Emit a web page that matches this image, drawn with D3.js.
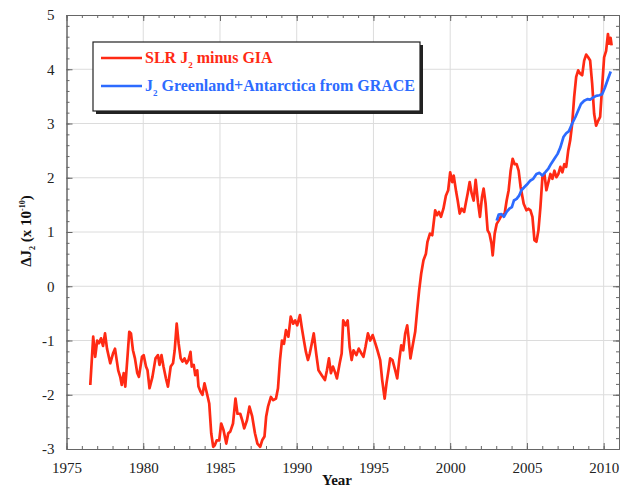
<!DOCTYPE html>
<html>
<head>
<meta charset="utf-8">
<script src="https://cdn.jsdelivr.net/npm/d3@7/dist/d3.min.js"></script>
<style>
  html, body { margin: 0; padding: 0; background: #fff; }
  svg { display: block; }
  text { font-family: "Liberation Serif", "Times New Roman", serif; }
</style>
</head>
<body>
<svg id="chart" width="622" height="487"></svg>
<script>
// SLR J2 minus GIA (decimal year, x 1e-10)
const slrYears = [
  1976.55, 1976.74, 1976.87, 1977.0, 1977.12, 1977.25, 1977.38, 1977.51, 1977.64, 1977.85,
  1978.03, 1978.16, 1978.37, 1978.5, 1978.6, 1978.73, 1978.83, 1978.99, 1979.09, 1979.2,
  1979.33, 1979.46, 1979.61, 1979.72, 1979.92, 1980.03, 1980.18, 1980.28, 1980.41, 1980.6,
  1980.8, 1980.96, 1981.06, 1981.19, 1981.32, 1981.48, 1981.61, 1981.79, 1981.94, 1982.05,
  1982.18, 1982.31, 1982.44, 1982.56, 1982.69, 1982.82, 1982.95, 1983.08, 1983.16, 1983.29,
  1983.39, 1983.52, 1983.6, 1983.73, 1983.86, 1983.99, 1984.12, 1984.3, 1984.43, 1984.56,
  1984.66, 1984.79, 1984.95, 1985.08, 1985.23, 1985.41, 1985.54, 1985.67, 1985.85, 1986.01,
  1986.14, 1986.32, 1986.45, 1986.58, 1986.76, 1986.92, 1987.1, 1987.28, 1987.44, 1987.62,
  1987.75, 1987.9, 1988.01, 1988.13, 1988.32, 1988.47, 1988.65, 1988.78, 1988.91, 1989.04,
  1989.17, 1989.3, 1989.46, 1989.61, 1989.77, 1989.9, 1990.03, 1990.21, 1990.34, 1990.47,
  1990.6, 1990.73, 1990.85, 1990.98, 1991.11, 1991.27, 1991.42, 1991.63, 1991.84, 1991.97,
  1992.1, 1992.23, 1992.36, 1992.49, 1992.62, 1992.8, 1992.93, 1993.03, 1993.19, 1993.32,
  1993.45, 1993.58, 1993.7, 1993.89, 1994.04, 1994.22, 1994.35, 1994.48, 1994.64, 1994.79,
  1994.95, 1995.13, 1995.26, 1995.44, 1995.57, 1995.73, 1995.85, 1995.98, 1996.09, 1996.24,
  1996.42, 1996.55, 1996.68, 1996.81, 1996.94, 1997.07, 1997.2, 1997.28, 1997.41, 1997.54,
  1997.72, 1997.85, 1997.98, 1998.11, 1998.26, 1998.42, 1998.52, 1998.68, 1998.83, 1999.02,
  1999.15, 1999.27, 1999.4, 1999.56, 1999.72, 1999.87, 2000.0, 2000.13, 2000.23, 2000.39,
  2000.49, 2000.62, 2000.75, 2000.91, 2001.01, 2001.14, 2001.27, 2001.4, 2001.53, 2001.66,
  2001.81, 2001.94, 2002.07, 2002.18, 2002.31, 2002.44, 2002.56, 2002.69, 2002.77, 2002.9,
  2003.03, 2003.16, 2003.29, 2003.42, 2003.55, 2003.68, 2003.81, 2003.94, 2004.07, 2004.2,
  2004.33, 2004.46, 2004.59, 2004.79, 2004.97, 2005.1, 2005.23, 2005.36, 2005.49, 2005.62,
  2005.75, 2005.88, 2006.01, 2006.14, 2006.27, 2006.4, 2006.53, 2006.66, 2006.79, 2006.92,
  2007.05, 2007.18, 2007.31, 2007.44, 2007.56, 2007.69, 2007.82, 2007.95, 2008.08, 2008.21,
  2008.34, 2008.47, 2008.6, 2008.73, 2008.86, 2008.99, 2009.12, 2009.25, 2009.38, 2009.51,
  2009.64, 2009.77, 2009.9, 2010.03, 2010.16, 2010.28, 2010.36, 2010.45, 2010.52
];
const slrValues = [
  -1.82, -0.93, -1.30, -1.00, -1.05, -0.96, -1.10, -0.87, -1.15, -1.42,
  -1.24, -1.15, -1.55, -1.67, -1.82, -1.60, -1.85, -1.24, -0.84, -0.87,
  -1.18, -1.33, -1.60, -1.67, -1.30, -1.27, -1.48, -1.55, -1.88, -1.67,
  -1.33, -1.27, -1.45, -1.27, -1.48, -1.70, -1.85, -1.48, -1.42, -1.18,
  -0.69, -1.06, -1.33, -1.39, -1.33, -1.42, -1.36, -1.21, -1.48, -1.45,
  -1.64, -1.55, -1.85, -1.94, -2.00, -1.79, -1.94, -2.16, -2.71, -2.96,
  -2.93, -2.84, -2.84, -2.53, -2.65, -2.90, -2.71, -2.68, -2.53, -2.07,
  -2.35, -2.35, -2.47, -2.62, -2.47, -2.22, -2.40, -2.71, -2.90, -2.96,
  -2.84, -2.77, -2.40, -2.22, -2.04, -2.10, -2.07, -1.88, -1.36, -1.00,
  -1.06, -0.81, -0.93, -0.56, -0.69, -0.63, -0.72, -0.53, -0.78, -1.00,
  -1.21, -1.36, -1.24, -1.06, -0.87, -1.24, -1.55, -1.64, -1.73, -1.55,
  -1.33, -1.60, -1.48, -1.58, -1.70, -1.42, -1.24, -0.63, -0.72, -0.63,
  -1.12, -1.36, -1.18, -1.27, -1.15, -1.24, -1.30, -1.12, -0.87, -1.00,
  -0.90, -1.06, -1.18, -1.36, -1.73, -2.07, -1.79, -1.55, -1.33, -1.36,
  -1.55, -1.70, -1.36, -1.09, -1.18, -0.87, -0.72, -0.93, -1.33, -1.12,
  -0.84, -0.44, -0.07, 0.23, 0.48, 0.60, 0.82, 0.97, 0.94, 1.40,
  1.31, 1.37, 1.28, 1.43, 1.67, 1.77, 2.10, 1.92, 2.04, 1.74,
  1.58, 1.34, 1.43, 1.37, 1.52, 1.71, 1.92, 1.71, 1.58, 1.96,
  1.55, 1.28, 1.64, 1.80, 1.52, 1.03, 0.97, 0.79, 0.57, 0.97,
  1.15, 1.21, 1.28, 1.31, 1.34, 1.58, 1.77, 2.13, 2.35, 2.25,
  2.25, 2.13, 1.83, 1.52, 1.40, 1.43, 1.40, 1.28, 0.85, 0.82,
  1.03, 1.46, 2.01, 2.07, 1.77, 1.92, 2.07, 1.98, 2.13, 2.01,
  2.07, 2.20, 2.10, 2.25, 2.20, 2.50, 2.69, 3.00, 3.49, 3.86,
  3.98, 3.92, 3.89, 4.16, 4.27, 4.22, 4.16, 3.74, 3.18, 2.96,
  3.05, 3.12, 3.67, 4.22, 4.34, 4.65, 4.47, 4.58, 4.44
];

// Greenland + Antarctica J2 from GRACE
const graceYears = [
  2003.03, 2003.16, 2003.34, 2003.5, 2003.68, 2003.86, 2004.02, 2004.15, 2004.33, 2004.49,
  2004.64, 2004.84, 2005.05, 2005.23, 2005.41, 2005.62, 2005.82, 2006.0, 2006.19, 2006.4,
  2006.58, 2006.79, 2007.0, 2007.18, 2007.38, 2007.56, 2007.74, 2007.95, 2008.16, 2008.34,
  2008.52, 2008.73, 2008.94, 2009.12, 2009.33, 2009.51, 2009.72, 2009.9, 2010.08, 2010.28,
  2010.46
];
const graceValues = [
  1.21, 1.32, 1.33, 1.28, 1.37, 1.43, 1.46, 1.58, 1.61, 1.67,
  1.77, 1.83, 1.89, 1.95, 1.98, 2.07, 2.09, 2.04, 2.10, 2.17,
  2.26, 2.35, 2.44, 2.56, 2.75, 2.82, 2.86, 3.00, 3.12, 3.24,
  3.36, 3.42, 3.45, 3.44, 3.48, 3.51, 3.52, 3.54, 3.66, 3.82,
  3.96
];

const xTicks = [1975, 1980, 1985, 1990, 1995, 2000, 2005, 2010];
const yTicks = [-3, -2, -1, 0, 1, 2, 3, 4, 5];

const svg = d3.select("#chart");
const plotLeft = 66.5, plotRight = 619, plotTop = 15, plotBottom = 449;

const x = d3.scaleLinear().domain([1975, 2011]).range([plotLeft, plotRight]);
const y = d3.scaleLinear().domain([-3, 5]).range([plotBottom, plotTop]);

const xMinor = d3.range(1975, 2011.01, 1);
const yMinor = d3.range(-3, 5.001, 0.2).map(v => +v.toFixed(1));
const plainNumber = d => String(d);

// grid
const grid = svg.append("g").attr("stroke", "#dcdcdc").attr("stroke-width", 1);
grid.selectAll("line.gx").data(xTicks.slice(1)).join("line")
  .attr("x1", d => x(d)).attr("x2", d => x(d))
  .attr("y1", plotTop).attr("y2", plotBottom);
grid.selectAll("line.gy").data(yTicks.slice(1, -1)).join("line")
  .attr("x1", plotLeft).attr("x2", plotRight)
  .attr("y1", d => y(d)).attr("y2", d => y(d));

// frame axes with inward major and minor ticks
function styleAxis(g) {
  g.selectAll(".domain").attr("stroke", "#666");
  g.selectAll(".tick line").attr("stroke", "#666");
  g.selectAll(".tick text").attr("fill", "#222")
    .style("font-family", '"Liberation Serif", serif').style("font-size", "15px");
}
const axes = svg.append("g");

axes.append("g").attr("transform", `translate(0,${plotBottom})`)
  .call(d3.axisBottom(x).tickValues(xMinor).tickSize(-3).tickSizeOuter(0).tickFormat(""))
  .call(styleAxis);
axes.append("g").attr("transform", `translate(0,${plotBottom})`)
  .call(d3.axisBottom(x).tickValues(xTicks).tickSize(-6).tickSizeOuter(0).tickPadding(13).tickFormat(plainNumber))
  .call(styleAxis);
axes.append("g").attr("transform", `translate(0,${plotTop})`)
  .call(d3.axisTop(x).tickValues(xMinor).tickSize(-3).tickSizeOuter(0).tickFormat(""))
  .call(styleAxis);
axes.append("g").attr("transform", `translate(0,${plotTop})`)
  .call(d3.axisTop(x).tickValues(xTicks).tickSize(-6).tickSizeOuter(0).tickFormat(""))
  .call(styleAxis);

axes.append("g").attr("transform", `translate(${plotLeft},0)`)
  .call(d3.axisLeft(y).tickValues(yMinor).tickSize(-3).tickSizeOuter(0).tickFormat(""))
  .call(styleAxis);
axes.append("g").attr("transform", `translate(${plotLeft},0)`)
  .call(d3.axisLeft(y).tickValues(yTicks).tickSize(-6).tickSizeOuter(0).tickPadding(12).tickFormat(plainNumber))
  .call(styleAxis);
axes.append("g").attr("transform", `translate(${plotRight},0)`)
  .call(d3.axisRight(y).tickValues(yMinor).tickSize(-3).tickSizeOuter(0).tickFormat(""))
  .call(styleAxis);
axes.append("g").attr("transform", `translate(${plotRight},0)`)
  .call(d3.axisRight(y).tickValues(yTicks).tickSize(-6).tickSizeOuter(0).tickFormat(""))
  .call(styleAxis);

// series
const line = d3.line().x(d => x(d[0])).y(d => y(d[1]));
const slr = slrYears.map((t, i) => [t, slrValues[i]]);
const grace = graceYears.map((t, i) => [t, graceValues[i]]);

svg.append("path").datum(slr).attr("d", line)
  .attr("fill", "none").attr("stroke", "#ff2a14").attr("stroke-width", 2.7)
  .attr("stroke-linejoin", "round");
svg.append("path").datum(grace).attr("d", line)
  .attr("fill", "none").attr("stroke", "#2d6bff").attr("stroke-width", 2.7)
  .attr("stroke-linejoin", "round");

// legend
const lg = svg.append("g");
lg.append("rect").attr("x", 96).attr("y", 45).attr("width", 327).attr("height", 69)
  .attr("fill", "#222");
lg.append("rect").attr("x", 93).attr("y", 42).attr("width", 327).attr("height", 69)
  .attr("fill", "#fff").attr("stroke", "#222").attr("stroke-width", 1.2);

const legendItems = [
  { color: "#ff2a14", main: "SLR J", sub: "2", rest: " minus GIA", yy: 58 },
  { color: "#2d6bff", main: "J", sub: "2", rest: " Greenland+Antarctica from GRACE", yy: 86 }
];
legendItems.forEach(it => {
  lg.append("line").attr("x1", 101).attr("x2", 142).attr("y1", it.yy).attr("y2", it.yy)
    .attr("stroke", it.color).attr("stroke-width", 2.7);
  const t = lg.append("text").attr("x", 145).attr("y", it.yy + 5)
    .attr("fill", it.color).style("font-size", "16px").style("font-weight", "bold");
  t.append("tspan").text(it.main);
  t.append("tspan").attr("dy", 5).style("font-size", "9px").text(it.sub);
  t.append("tspan").attr("dy", -5).text(it.rest);
});

// axis titles
svg.append("text").attr("x", 337).attr("y", 485).attr("text-anchor", "middle")
  .attr("fill", "#111").style("font-size", "15px").style("font-weight", "bold").text("Year");

const yl = svg.append("text").attr("transform", "translate(31,231) rotate(-90)")
  .attr("text-anchor", "middle").attr("fill", "#111")
  .style("font-size", "15px").style("font-weight", "bold");
yl.append("tspan").text("\u0394J");
yl.append("tspan").attr("dy", 4).style("font-size", "8px").text("2");
yl.append("tspan").attr("dy", -4).text(" (x 10");
yl.append("tspan").attr("dy", -6).style("font-size", "8px").text("-10");
yl.append("tspan").attr("dy", 6).text(")");
</script>
</body>
</html>
